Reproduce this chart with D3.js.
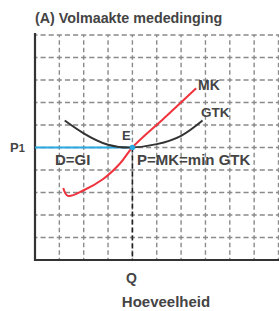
<!DOCTYPE html>
<html>
<head>
<meta charset="utf-8">
<script src="https://d3js.org/d3.v7.min.js"></script>
<style>
  body { margin: 0; background: #fff; }
  text { font-family: "Liberation Sans", Arial, sans-serif; font-weight: bold; fill: #444; }
</style>
</head>
<body>
<svg id="chart" width="279" height="311"></svg>
<script>
// Data (axis units: 10 x 10 grid)
const gridTicks = [0, 1, 2, 3, 4, 5, 6, 7, 8, 9, 10];
const qValue = 4;
const p1Value = 5;
const gtkX = [1.22, 2, 3, 4, 5, 6, 6.88];
const gtkY = [6.2, 5.63, 5.12, 5, 5.15, 5.52, 6.2];
const mkX = [1.16, 1.35, 2, 2.8, 3.5, 4, 5.3, 6.62];
const mkY = [3.2, 2.85, 3.1, 3.6, 4.3, 5, 6.3, 7.63];

const svg = d3.select("#chart");

// Scales
const x = d3.scaleLinear().domain([0, 10]).range([35, 278.5]);
const y = d3.scaleLinear().domain([0, 10]).range([260, 35]);

const cellW = x(1) - x(0);
const cellH = y(0) - y(1);

// Grid - dashed, crosses at intersections
const grid = svg.append("g").attr("stroke", "#8a8a8a").attr("stroke-width", 1.4).attr("fill", "none");

grid.selectAll("line.h")
  .data(gridTicks.filter(d => d > 0))
  .enter().append("line")
  .attr("x1", x(0)).attr("x2", x(10) + 2)
  .attr("y1", d => y(d)).attr("y2", d => y(d))
  .attr("stroke-dasharray", (cellW / 3 - 3) + "," + 3)
  .attr("stroke-dashoffset", -(cellW / 3 - 3) / 2 - 3);

grid.selectAll("line.v")
  .data(gridTicks.filter(d => d > 0))
  .enter().append("line")
  .attr("x1", d => x(d)).attr("x2", d => x(d))
  .attr("y1", y(10)).attr("y2", y(0))
  .attr("stroke-dasharray", (cellH / 3 - 3) + "," + 3)
  .attr("stroke-dashoffset", (cellH / 3 - 3) / 2);

// Axes
svg.append("line")
  .attr("x1", x(0)).attr("x2", x(0))
  .attr("y1", y(10) - 2).attr("y2", y(0) + 1)
  .attr("stroke", "#333").attr("stroke-width", 2.2);
svg.append("line")
  .attr("x1", x(0) - 1).attr("x2", 279)
  .attr("y1", y(0)).attr("y2", y(0))
  .attr("stroke", "#333").attr("stroke-width", 2.2);

// Q dashed line
svg.append("line")
  .attr("x1", x(qValue)).attr("x2", x(qValue))
  .attr("y1", y(p1Value)).attr("y2", y(0))
  .attr("stroke", "#222").attr("stroke-width", 1.6)
  .attr("stroke-dasharray", "5,3");

// P1 line
svg.append("line")
  .attr("x1", x(0)).attr("x2", x(qValue))
  .attr("y1", y(p1Value)).attr("y2", y(p1Value))
  .attr("stroke", "#27a9e1").attr("stroke-width", 2);

// Curves
const line = d3.line().x(d => x(d[0])).y(d => y(d[1]));

svg.append("path")
  .datum(d3.zip(gtkX, gtkY))
  .attr("d", line.curve(d3.curveNatural))
  .attr("fill", "none").attr("stroke", "#333").attr("stroke-width", 2);

svg.append("path")
  .datum(d3.zip(mkX, mkY))
  .attr("d", line.curve(d3.curveCatmullRom))
  .attr("fill", "none").attr("stroke", "#f0323c").attr("stroke-width", 2);

// Point E
svg.append("circle")
  .attr("cx", x(qValue)).attr("cy", y(p1Value)).attr("r", 2.8)
  .attr("fill", "#27a9e1");

// Labels
svg.append("text").attr("x", 35).attr("y", 23).attr("font-size", 14.3)
  .text("(A) Volmaakte mededinging");

const p1 = svg.append("text").attr("x", 10).attr("y", y(p1Value) + 4).attr("font-size", 13);
p1.append("tspan").text("P");
p1.append("tspan").attr("font-size", 11).text("1");

svg.append("text").attr("x", 198).attr("y", 90).attr("font-size", 14).text("MK");
svg.append("text").attr("x", 201).attr("y", 117).attr("font-size", 13.5).text("GTK");
svg.append("text").attr("x", 122).attr("y", 140).attr("font-size", 13).text("E");
svg.append("text").attr("x", 55).attr("y", 165).attr("font-size", 15).text("D=GI");
svg.append("text").attr("x", 137).attr("y", 165).attr("font-size", 15).text("P=MK=min GTK");

svg.append("text").attr("x", x(qValue) - 1).attr("y", 283).attr("font-size", 14)
  .attr("text-anchor", "middle").text("Q");
svg.append("text").attr("x", 166).attr("y", 307).attr("font-size", 15)
  .attr("text-anchor", "middle").text("Hoeveelheid");
</script>
</body>
</html>
